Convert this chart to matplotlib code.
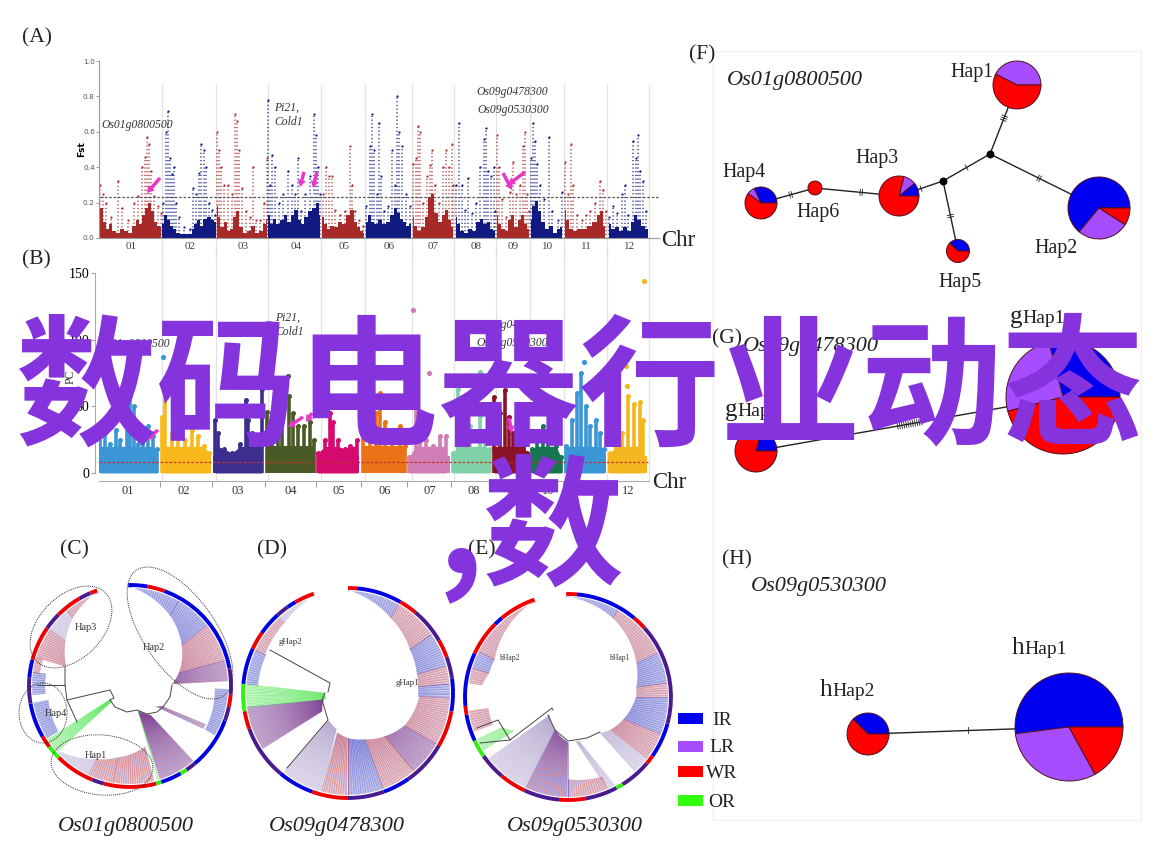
import numpy as np
import matplotlib
matplotlib.use('Agg')
import matplotlib.pyplot as plt
from matplotlib.collections import LineCollection
from matplotlib.patches import Ellipse, Rectangle

plt.rcParams['font.family'] = ['Liberation Serif', 'DejaVu Sans']

W, H = 1154, 866

# ---- data ----
chr_names = ['01', '02', '03', '04', '05', '06', '07', '08', '09', '10', '11', '12']
chr_edges_a = [99, 162, 216, 268, 321, 365, 412, 454, 496, 530, 564, 607, 649]
chr_labels_a = [131, 190, 243, 296, 344, 389, 433, 476, 513, 548, 586, 630]
chr_labels_b = [128, 184, 238, 291, 339, 385, 430, 474, 513, 548, 588, 628]
chr_edges_b = [95, 160, 212, 265, 316, 361, 407, 451, 492, 529, 563, 607, 647]

# Fst columns, (position, Fst) per chromosome
fst_peaks = [
    [(100, .30), (103, .25), (106, .20), (111, .12), (118, .32), (122, .17), (128, .10), (134, .20), (138, .24),
     (142, .40), (145, .46), (147, .57), (149, .53), (151, .38), (154, .24), (158, .18), (161, .14)],
    [(163, .20), (166, .60), (168, .72), (170, .45), (172, .36), (174, .40), (176, .20), (179, .12), (184, .06),
     (190, .05), (193, .28), (196, .25), (199, .37), (201, .53), (204, .50), (206, .40), (209, .20), (212, .16), (215, .13)],
    [(217, .60), (219, .50), (221, .40), (224, .30), (228, .30), (232, .25), (235, .70), (237, .66), (239, .50),
     (242, .28), (246, .15), (250, .12), (253, .40), (256, .10), (260, .10), (264, .20), (267, .45)],
    [(268, .78), (270, .30), (272, .47), (275, .40), (279, .20), (283, .25), (288, .38), (292, .30), (295, .25),
     (298, .45), (301, .15), (305, .25), (310, .35), (314, .70), (316, .58), (318, .40), (320, .25)],
    [(323, .25), (326, .40), (329, .35), (332, .35), (335, .16), (340, .13), (345, .15), (350, .52), (352, .30),
     (355, .15), (359, .10), (363, .07)],
    [(366, .18), (370, .52), (372, .70), (374, .50), (377, .25), (379, .65), (381, .35), (384, .15), (388, .18),
     (392, .50), (395, .30), (397, .80), (399, .60), (402, .52), (406, .25), (410, .18)],
    [(413, .42), (416, .45), (418, .63), (420, .60), (423, .20), (427, .35), (430, .41), (432, .50), (435, .30),
     (439, .20), (443, .40), (446, .50), (449, .40), (452, .53), (453, .30)],
    [(456, .30), (459, .65), (462, .30), (465, .16), (468, .34), (472, .14), (476, .20), (480, .40), (484, .56),
     (486, .62), (488, .38), (491, .35), (494, .40), (495, .15)],
    [(497, .58), (499, .40), (502, .22), (506, .12), (510, .26), (513, .43), (516, .25), (520, .30), (523, .52),
     (525, .60), (527, .25), (529, .15)],
    [(531, .45), (533, .65), (535, .55), (537, .42), (540, .30), (544, .22), (549, .57), (552, .15), (558, .10), (562, .26)],
    [(565, .43), (568, .25), (571, .53), (573, .30), (577, .13), (582, .10), (586, .13), (590, .15), (595, .20),
     (600, .32), (603, .27), (606, .15)],
    [(609, .12), (613, .18), (617, .14), (622, .25), (625, .30), (628, .13), (633, .55), (636, .45), (638, .58),
     (640, .38), (643, .32), (646, .15)],
]
# dense lower part of each chromosome
fst_base = [
    [(99, .13), (101, .17), (104, .09), (107, .05), (110, .08), (114, .04), (118, .03), (122, .05), (126, .04), (130, .03),
     (134, .07), (137, .10), (140, .08), (143, .13), (146, .17), (149, .20), (152, .15), (155, .09), (158, .07), (161, .06)],
    [(162, .08), (165, .13), (168, .10), (171, .07), (174, .05), (178, .03), (182, .025), (186, .02), (190, .025),
     (193, .05), (196, .08), (199, .10), (202, .07), (205, .11), (209, .12), (213, .10), (216, .09)],
    [(217, .18), (219, .12), (222, .06), (226, .09), (229, .04), (232, .05), (235, .12), (238, .15), (241, .06),
     (245, .03), (249, .04), (253, .07), (257, .03), (261, .04), (264, .08), (267, .11)],
    [(268, .13), (271, .08), (274, .11), (278, .08), (282, .10), (285, .13), (289, .09), (292, .13), (296, .16),
     (299, .10), (302, .08), (306, .12), (310, .15), (314, .17), (317, .20), (320, .13)],
    [(322, .12), (325, .08), (328, .05), (332, .07), (336, .06), (340, .09), (344, .08), (348, .13), (352, .16),
     (355, .09), (358, .06), (361, .04), (364, .03)],
    [(366, .09), (369, .13), (372, .09), (376, .08), (380, .10), (384, .08), (388, .09), (392, .13), (396, .17),
     (399, .14), (402, .11), (405, .09), (408, .07), (411, .08)],
    [(413, .12), (416, .07), (419, .04), (423, .06), (427, .12), (430, .23), (433, .25), (436, .14), (440, .09),
     (444, .13), (447, .16), (450, .10), (453, .06)],
    [(456, .12), (459, .08), (462, .04), (466, .03), (470, .05), (474, .04), (478, .09), (482, .11), (485, .08),
     (489, .09), (492, .05), (495, .04)],
    [(497, .13), (500, .08), (503, .05), (507, .04), (510, .10), (513, .13), (516, .06), (520, .10), (523, .13),
     (526, .08), (529, .05)],
    [(531, .10), (534, .18), (537, .21), (540, .15), (543, .09), (547, .05), (551, .07), (555, .03), (559, .05), (562, .06)],
    [(565, .16), (568, .10), (571, .05), (575, .04), (580, .05), (585, .05), (590, .07), (595, .09), (599, .13),
     (602, .15), (605, .07)],
    [(609, .08), (613, .05), (617, .06), (621, .04), (625, .06), (629, .04), (633, .09), (636, .13), (639, .10),
     (643, .07), (648, .05)],
]

# GWAS columns, (position, value) per chromosome
gwas_peaks = [
    [(100, 28), (105, 30), (110, 22), (116, 32), (120, 25), (127, 55), (130, 58), (134, 50), (138, 22), (143, 25),
     (148, 35), (153, 28), (157, 18)],
    [(162, 42), (165, 60), (172, 30), (178, 28), (185, 25), (192, 32), (198, 28), (204, 20), (209, 15)],
    [(215, 40), (218, 30), (224, 18), (232, 15), (240, 22), (246, 55), (248, 40), (252, 30), (258, 20), (262, 63)],
    [(267, 46), (272, 33), (278, 30), (282, 40), (289, 58), (293, 45), (298, 35), (304, 35), (310, 38), (314, 25)],
    [(318, 15), (325, 25), (330, 45), (333, 38), (338, 25), (345, 18), (350, 20), (357, 25)],
    [(363, 40), (370, 30), (376, 45), (380, 60), (385, 38), (392, 30), (400, 35), (405, 20)],
    [(409, 12), (416, 60), (420, 30), (426, 25), (433, 20), (440, 28), (446, 28)],
    [(453, 15), (458, 63), (463, 20), (470, 35), (480, 43), (485, 30), (490, 18)],
    [(494, 57), (500, 45), (505, 62), (509, 42), (513, 30), (518, 35), (524, 25), (527, 15)],
    [(532, 18), (537, 30), (543, 35), (548, 25), (556, 20), (561, 12)],
    [(566, 20), (572, 40), (577, 60), (581, 75), (586, 50), (590, 35), (596, 40), (600, 30), (604, 18)],
    [(610, 15), (616, 25), (622, 30), (628, 58), (634, 52), (640, 53), (643, 40)],
]
gwas_single = [(0, 163, 87), (3, 288, 73), (6, 413, 122), (6, 429, 75), (7, 480, 76), (10, 584, 83),
               (11, 626, 80), (11, 627, 65), (11, 644, 144)]
gwas_left = [99, 161, 213, 266, 317, 362, 408, 452, 493, 530, 565, 608]
gwas_right = [158, 211, 263, 315, 359, 406, 450, 491, 528, 562, 606, 647]
gwas_colors = ['#3a96d5', '#f8b71a', '#3b2e8f', '#4a5a26', '#d40a6e', '#ea7317',
               '#d17db5', '#7fd2a8', '#8a1226', '#17764f', '#3a96d5', '#f3b61f']

group_names = ['IR', 'LR', 'WR', 'OR']
group_colors = ['#0000f0', '#a64dff', '#ff0000', '#33ff11']
rim_colors = {'b': '#0000e0', 'r': '#f00000', 'p': '#4a1a90', 'g': '#30f010'}
link_colors = {'b': ['#2030c0', '#9090e0', '#6060c8'], 'r': ['#d03030', '#e8a0a0', '#8060b0'],
               'p': ['#6030a0', '#c04060', '#5040b0'], 'g': ['#30e030', '#90f090'],
               'l': ['#b0a8d8', '#e0c0d0', '#9090c8']}

# trees: rim pieces (angle where a piece starts, colour code), last angle closes the ring
tree_c_center, tree_c_radius = (130, 686), 101
rim_c_angles = [91, 80, 70, 10, -5, -12, -20, -50, -56, -60, -72, -75, -105, -112, -135, -143, -150, -170, -185,
                -195, -215, -225, -240, -247, -251]
rim_c_codes = list('brbprpbpgbgrprgrbpbrprpr')
tree_d_center, tree_d_radius = (348, 693), 105
rim_d_angles = [90, 85, 60, 50, 30, 20, 8, -10, -30, -55, -70, -90, -110, -130, -160, -170, -185, -205, -215,
                -228, -235, -240, -251]
rim_d_codes = list('rbrprpbrpbprbprgbrbpbr')
tree_e_angles_rim = [91, 85, 50, 42, -15, -35, -40, -58, -62, -80, -95, -115, -130, -145, -155, -170, -175, -205,
                     -225, -230, -251]
tree_e_codes_rim = list('rbrpbrpgprprpgbrbrbr')
tree_e_center, tree_e_radius = (568, 697), 103

# links: outer angles, inner angles, inner radii, colour code, optional outer radius
links_c = [
    (91, 60, 91, 60, .99, .80, 'b'), (60, 38, 60, 38, .80, .65, 'b'), (38, 15, 38, 15, .65, .50, 'r'),
    (15, 3, 15, 3, .50, .42, 'p'), (-2, -30, -2, -30, .84, .86, 'b'),
    (-27, -30, -33, -38, .36, .33, 'p', .84), (-50, -72, -55, -72, .35, .26, 'p'),
    (-73, -74, -72, -72, .26, .26, 'g'), (-76, -100, -76, -100, .62, .72, 'r'),
    (-100, -115, -100, -115, .72, .80, 'r'), (-115, -137, -115, -137, .80, .95, 'l'),
    (-138, -147, -140, -146, .24, .24, 'g'), (-148, -170, -148, -170, .84, .82, 'b'),
    (-175, -188, -175, -188, .84, .84, 'b'), (-188, -197, -188, -197, .90, .90, 'r'),
    (-197, -215, -197, -215, .66, .78, 'r'), (-215, -230, -215, -230, .78, .88, 'l'),
    (-230, -251, -230, -251, .88, .99, 'r'),
]
links_d = [
    (90, 60, 90, 60, .98, .82, 'b'), (60, 35, 60, 35, .82, .72, 'r'), (35, 15, 35, 15, .72, .68, 'b'),
    (15, 5, 15, 5, .68, .67, 'r'), (5, -3, 5, -3, .67, .67, 'b'), (-3, -30, -3, -30, .68, .62, 'r'),
    (-30, -50, -30, -50, .62, .54, 'p'), (-50, -70, -50, -70, .54, .47, 'r'), (-70, -90, -70, -90, .47, .43, 'b'),
    (-90, -105, -90, -105, .43, .39, 'r'), (-105, -129, -108, -125, .36, .32, 'l'),
    (-147, -172, -145, -165, .30, .24, 'p'), (-172, -185, -165, -180, .22, .22, 'g'),
    (-185, -205, -185, -205, .86, .86, 'b'), (-205, -228, -205, -228, .87, .90, 'r'), (-228, -251, -228, -251, .90, .98, 'l'),
]
links_e = [
    (91, 60, 91, 60, .98, .88, 'b'), (60, 26, 60, 26, .88, .74, 'r'), (26, 8, 26, 8, .74, .67, 'b'),
    (8, 0, 8, 0, .67, .66, 'r'), (0, -22, 0, -22, .66, .58, 'b'), (-22, -38, -22, -38, .58, .52, 'r'),
    (-38, -48, -38, -48, .52, .47, 'l'), (-62, -67, -76, -80, .44, .44, 'l'), (-67, -90, -67, -90, .84, .80, 'r'),
    (-90, -115, -90, -112, .44, .34, 'p'), (-115, -142, -112, -135, .34, .25, 'l'),
    (-148, -155, -148, -155, .62, .70, 'g'), (-160, -172, -160, -172, .78, .78, 'r'), (-188, -197, -188, -197, .84, .80, 'r'),
    (-197, -207, -197, -207, .80, .80, 'b'), (-207, -251, -207, -251, .80, .99, 'r'),
]
# branch lines in the trees
branches_c = [
    [(110, 700), (115, 707), (127, 712), (137, 710), (147, 714), (157, 712), (163, 707), (170, 697), (172, 685)],
    [(67, 700), (110, 690), (114, 698), (110, 700)], [(65, 667), (65, 685), (67, 700), (77, 722)], [(65, 685), (37, 685)],
]
branches_d = [[(270, 650), (330, 683), (328, 692)], [(325, 693), (322, 700), (328, 720), (287, 768)]]
branches_e = [[(510, 740), (552, 708), (553, 710)], [(548, 715), (555, 730), (568, 741), (587, 738), (600, 732)],
              [(477, 728), (498, 720), (510, 740), (480, 743)]]
# dotted rings of panel C: centre, width, height, angle
rings_c = [((71, 627), 97, 63, -45), ((180, 633), 153, 72, 55), ((43, 713), 48, 60, 0), ((102, 765), 102, 60, 5)]

# networks: centre, radius, group shares (IR, LR, WR)
pies_f = [((1017, 85), 24, [0, .425, .575]), ((1099, 208), 31, [.64, .27, .09]), ((899, 196), 20, [.11, .10, .79]),
          ((761, 203), 16, [.32, .08, .60]), ((958, 251), 11.5, [.38, 0, .62]), ((815, 188), 7, [0, 0, 1])]
nodes_f = [(990, 154), (943, 181)]
# edge: two ends, tick position along it, tick count
edges_f = [((1017, 85), (990, 154), .48, 3), ((990, 154), (1099, 208), .45, 2), ((990, 154), (943, 181), .5, 1),
           ((943, 181), (899, 196), .5, 1), ((943, 181), (958, 251), .5, 2), ((899, 196), (815, 188), .45, 2),
           ((815, 188), (761, 203), .45, 2)]
pies_g = [((756, 451), 21, [.21, 0, .79]), ((1063, 397), 57, [.29, .25, .46])]
edges_g = [((756, 451), (1063, 397), .5, 12)]
pies_h = [((868, 734), 21, [.375, 0, .625]), ((1069, 727), 54, [.52, .31, .17])]
edges_h = [((868, 734), (1069, 727), .5, 1)]


def draw_rim(ax, center, radius, angles, codes):
    for a0, a1, code in zip(angles[:-1], angles[1:], codes):
        t = np.radians(np.linspace(a0, a1, 12))
        ax.plot(center[0] + radius * np.cos(t), center[1] - radius * np.sin(t),
                color=rim_colors[code], lw=2.8, solid_capstyle='butt', zorder=4)


def draw_links(ax, center, radius, links):
    for link in links:
        a0, a1, b0, b1, r0, r1, code = link[:7]
        r_out = link[7] if len(link) > 7 else .97
        n = max(int(abs(a1 - a0) / .45), 2)
        oa = np.radians(np.linspace(a0, a1, n))
        ia = np.radians(np.linspace(b0, b1, n))
        rr = np.linspace(r0, r1, n) * radius
        segs = [[(center[0] + r_out * radius * np.cos(o), center[1] - r_out * radius * np.sin(o)),
                 (center[0] + q * np.cos(i), center[1] - q * np.sin(i))] for o, i, q in zip(oa, ia, rr)]
        cols = [link_colors[code][k % len(link_colors[code])] for k in range(n)]
        ax.add_collection(LineCollection(segs, colors=cols, linewidths=.5, alpha=.6, zorder=2))


def draw_edges(ax, edges):
    for p, q, frac, n in edges:
        ax.plot([p[0], q[0]], [p[1], q[1]], color='#222222', lw=1.0, zorder=2)
        p, q = np.array(p, float), np.array(q, float)
        d = (q - p) / np.hypot(*(q - p))
        nrm = np.array([-d[1], d[0]])
        mid = p + (q - p) * frac
        for k in range(n):
            c = mid + d * (k - (n - 1) / 2) * 2.2
            ax.plot(*np.c_[c - nrm * 3, c + nrm * 3], color='#222222', lw=.6, zorder=2)


def draw_pies(ax, pies):
    for center, radius, shares in pies:
        # y runs downwards on this axes, so clockwise here reads anticlockwise on the page
        ax.pie(shares, colors=group_colors[:3], center=center, radius=radius, startangle=0, counterclock=False,
               frame=True, wedgeprops=dict(edgecolor='#501020', linewidth=.7, zorder=3))


def prefix_label(ax, x, y, prefix, rest):
    ax.text(x, y, prefix, ha='right', va='baseline', fontsize=18, color='#222222')
    ax.text(x, y, rest, ha='left', va='baseline', fontsize=14, color='#222222')


fig = plt.figure(figsize=(W / 100, H / 100), dpi=100)

# ---- (A) Fst ----
ax_a = fig.add_axes([99 / W, 1 - 238 / H, 550 / W, 177 / H])
ax_a.set_xlim(99, 649)
ax_a.set_ylim(0, 1)
for edge in chr_edges_a[1:]:
    ax_a.vlines(edge, -.11, .87, color='#e2e2e2', lw=.9, clip_on=False, zorder=0)
for i, (peaks, base) in enumerate(zip(fst_peaks, fst_base)):
    col = '#a82a28' if i % 2 == 0 else '#101a80'
    px, py = np.array(peaks).T
    bx, by = np.array(base).T
    ax_a.fill_between(bx, 0, by, color=col, lw=0, step='mid', zorder=1)
    ax_a.vlines(px, 0, py, color=col, lw=1.1, linestyles=(0, (.01, 2.4)), capstyle='round', zorder=2)
    ax_a.scatter(px, py, s=2.5, color=col, lw=0, zorder=2)
ax_a.hlines(.232, 100, 660, color='#555555', lw=.9, linestyles=(0, (2, 1.5)), clip_on=False, zorder=3)
ax_a.hlines(0, 649, 660, color='#aaaaaa', lw=1, clip_on=False)
ax_a.set_yticks([0, .2, .4, .6, .8, 1])
ax_a.set_yticklabels(['0.0', '0.2', '0.4', '0.6', '0.8', '1.0'], fontsize=5.3, family='DejaVu Sans', color='#555555')
ax_a.set_xticks(chr_labels_a)
ax_a.set_xticklabels(chr_names, fontsize=8, color='#444444')
ax_a.tick_params(axis='x', length=0, pad=3)
ax_a.tick_params(axis='y', length=2, width=.6, color='#888888', pad=1)
ax_a.set_ylabel('Fst', fontsize=6.5, family='DejaVu Sans', fontweight='bold', labelpad=-2)
for s in ['top', 'right']:
    ax_a.spines[s].set_visible(False)
for s in ['left', 'bottom']:
    ax_a.spines[s].set_color('#999999')
    ax_a.spines[s].set_linewidth(.8)
ax_a.patch.set_alpha(0)

# ---- (B) GWAS ----
ax_b = fig.add_axes([99 / W, 1 - 473 / H, 550 / W, 200 / H])
ax_b.set_xlim(99, 649)
ax_b.set_ylim(0, 150)
for edge in chr_edges_a[1:]:
    ax_b.vlines(edge, -6, 169, color='#e2e2e2', lw=.9, clip_on=False, zorder=0)
for i, peaks in enumerate(gwas_peaks):
    px, py = np.array(peaks).T
    col = gwas_colors[i]
    ax_b.bar(gwas_left[i], 14, width=gwas_right[i] - gwas_left[i], bottom=-1, align='edge', color=col, lw=0, zorder=2)
    ax_b.fill_between(px, 0, np.minimum(py, 20), color=col, lw=0, zorder=2)
    ax_b.vlines(px, 0, py, color=col, lw=2.6, zorder=2)
    ax_b.scatter(px, py, s=13, color=col, lw=0, zorder=2)
for i, x, y in gwas_single:
    ax_b.scatter(x, y, s=14, color=gwas_colors[i], lw=0, zorder=2, clip_on=False)
ax_b.hlines(8, 99, 648, color='#c83030', lw=.9, linestyles=(0, (2, 1.5)), zorder=3)
ax_b.set_yticks([0, 50, 100, 150])
ax_b.set_yticklabels(['0', '50', '100', '150'], fontsize=8.5, color='#555555')
ax_b.tick_params(axis='y', length=3, width=.7, color='#999999', pad=1)
ax_b.spines['left'].set_position(('outward', 3))
ax_b.spines['bottom'].set_position(('outward', 6))
ax_b.set_xticks(chr_edges_b[1:-1])
ax_b.set_xticklabels([])
ax_b.tick_params(axis='x', length=4, width=.7, color='#999999')
ax_b.set_xticks(chr_labels_b, minor=True)
ax_b.set_xticklabels(chr_names, minor=True, fontsize=9, color='#333333')
ax_b.tick_params(axis='x', which='minor', length=0, pad=3)
for s in ['top', 'right']:
    ax_b.spines[s].set_visible(False)
for s in ['left', 'bottom']:
    ax_b.spines[s].set_color('#aaaaaa')
ax_b.patch.set_alpha(0)

# ---- everything else lies on one page-sized axes ----
ax = fig.add_axes([0, 0, 1, 1], zorder=5)
ax.set_xlim(0, W)
ax.set_ylim(H, 0)
ax.axis('off')
ax.patch.set_alpha(0)

ax.add_patch(Rectangle((713, 51), 428, 769, fc='none', ec='#f1f1f1', lw=1, zorder=0))
ax.text(71, 377, 'PC', rotation=90, ha='center', va='center', fontsize=8.5, color='#333333')

# trees
draw_links(ax, tree_c_center, tree_c_radius, links_c)
draw_rim(ax, tree_c_center, tree_c_radius, rim_c_angles, rim_c_codes)
draw_links(ax, tree_d_center, tree_d_radius, links_d)
draw_rim(ax, tree_d_center, tree_d_radius, rim_d_angles, rim_d_codes)
draw_links(ax, tree_e_center, tree_e_radius, links_e)
draw_rim(ax, tree_e_center, tree_e_radius, tree_e_angles_rim, tree_e_codes_rim)
for line in branches_c + branches_d + branches_e:
    xy = np.array(line)
    ax.plot(xy[:, 0], xy[:, 1], color='#444444', lw=.7, zorder=3)
for center, w, h, angle in rings_c:
    ax.add_patch(Ellipse(center, w, h, angle=angle, fc='none', ec='#333333', lw=.7, ls=(0, (1, 1)), zorder=5))

# networks
draw_edges(ax, edges_f + edges_g + edges_h)
draw_pies(ax, pies_f + pies_g + pies_h)
ax.scatter(*np.array(nodes_f).T, s=22, color='black', zorder=4)
ax.set_xlim(0, W)
ax.set_ylim(H, 0)
ax.axis('off')

# legend
for name, col, y in zip(group_names, group_colors, [718.5, 746, 771.5, 800.5]):
    ax.add_patch(Rectangle((678, y - 5.5), 25, 11, fc=col, ec='none'))
    ax.text(722, y + 2, name, ha='center', va='center', fontsize=14, color='#222222')

# text
for lab, x, y in [('(A)', 37, 38), ('(B)', 36, 260), ('(C)', 74, 550), ('(D)', 272, 550), ('(E)', 482, 550),
                  ('(F)', 702, 55), ('(G)', 727, 339), ('(H)', 737, 560)]:
    ax.text(x, y, lab, ha='center', va='center', fontsize=15.5, color='#222222')
for lab, x, y in [('Os01g0800500', 126, 827), ('Os09g0478300', 337, 827), ('Os09g0530300', 575, 827),
                  ('Os01g0800500', 795, 81), ('Os09g0478300', 811, 347), ('Os09g0530300', 819, 587)]:
    ax.text(x, y, lab, ha='center', va='center', fontsize=16, style='italic', color='#222222')
for lab, x, y in [('Hap1', 972, 72), ('Hap3', 877, 159), ('Hap4', 744, 173), ('Hap6', 818, 213),
                  ('Hap5', 960, 283), ('Hap2', 1056, 248)]:
    ax.text(x, y, lab, ha='center', va='center', fontsize=14.3, color='#222222')
prefix_label(ax, 1022, 323, 'g', 'Hap1')
prefix_label(ax, 737, 416, 'g', 'Hap2')
prefix_label(ax, 832, 696, 'h', 'Hap2')
prefix_label(ax, 1024, 654, 'h', 'Hap1')
for lab, x, y, fs in [('Hap3', 86, 627, 7.5), ('Hap2', 154, 647, 7.5), ('Hap4', 56, 714, 7.5), ('Hap1', 96, 755, 7.5),
                      ('gHap2', 290, 642, 6.5), ('gHap1', 407, 683, 6.5), ('hHap2', 510, 658, 5.5), ('hHap1', 620, 658, 5.5)]:
    ax.text(x, y, lab, ha='center', va='center', fontsize=fs, color='#333333', zorder=6)
ax.text(678, 240, 'Chr', ha='center', va='center', fontsize=16.5, color='#222222')
ax.text(669, 482, 'Chr', ha='center', va='center', fontsize=16.5, color='#222222')
for lab, x, y in [('Os01g0800500', 137, 125), ('Pi21,', 274, 108), ('Cold1', 274, 122), ('Os09g0478300', 512, 92),
                  ('Os09g0530300', 513, 110), ('Os01g0800500', 134, 344), ('Pi21,', 275, 318), ('Cold1', 275, 332),
                  ('Os09g0478300', 512, 325), ('Os09g0530300', 512, 343)]:
    ha = 'left' if lab in ('Pi21,', 'Cold1') else 'center'
    ax.text(x, y, lab, ha=ha, va='center', fontsize=8.4, style='italic', color='#333333')

# magenta pointers
for tail, head in [((160, 178), (147, 193)), ((304, 172), (300, 187)), ((317, 172), (313, 188)),
                   ((503, 173), (512, 190)), ((525, 172), (508, 185)), ((158, 430), (146, 440)),
                   ((303, 417), (288, 427)), ((312, 413), (306, 422)), ((509, 418), (512, 433))]:
    ax.annotate('', xy=head, xytext=tail, zorder=6,
                arrowprops=dict(arrowstyle='simple,head_width=.6,head_length=.5,tail_width=.25',
                                color='#e838c8', lw=0, shrinkA=0, shrinkB=0))

# banner over the whole figure
ax.text(580, 392, '数码电器行业动态', ha='center', va='center', fontsize=101.5, fontweight='bold',
        family=['Noto Sans CJK SC', 'DejaVu Sans'], color='#8533dd', zorder=20)
ax.text(438, 528, ',数', ha='left', va='center', fontsize=101.5, fontweight='bold',
        family=['Noto Sans CJK SC', 'DejaVu Sans'], color='#8533dd', zorder=20)

fig.savefig('out.png', dpi=100)
